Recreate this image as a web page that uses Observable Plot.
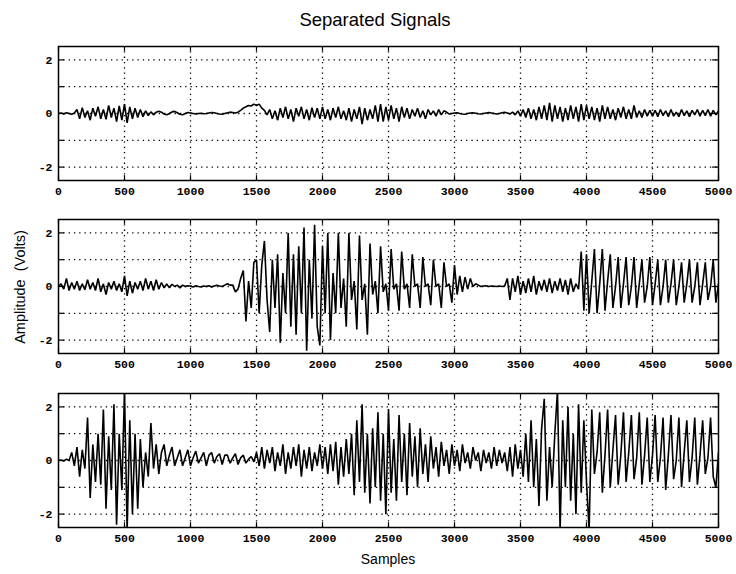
<!DOCTYPE html>
<html>
<head>
<meta charset="utf-8">
<script src="https://cdn.jsdelivr.net/npm/d3@7"></script>
<script src="https://cdn.jsdelivr.net/npm/@observablehq/plot@0.6"></script>
<style>
  html, body { margin: 0; padding: 0; background: #fff; }
  #wrap { position: relative; width: 736px; height: 574px; overflow: hidden; background: #fff; }
  .panel { position: absolute; left: 0; }
  #title { position: absolute; top: 9px; left: 0; width: 750px; text-align: center;
    font-family: "Liberation Sans", Arial, sans-serif; font-size: 18.5px; color: #000; }
  #ylab { position: absolute; left: 20px; top: 287px; transform: translate(-50%, -50%) rotate(-90deg);
    font-family: "Liberation Sans Narrow", "Liberation Sans", Arial, sans-serif; font-size: 14.5px; white-space: pre; color: #000; }
  #xlab { position: absolute; top: 551px; left: 0; width: 776px; text-align: center;
    font-family: "Liberation Sans Narrow", "Liberation Sans", Arial, sans-serif; font-size: 14px; color: #000; }
</style>
</head>
<body>
<div id="wrap">
  <div id="title">Separated Signals</div>
  <div id="ylab">Amplitude  (Volts)</div>
  <div id="xlab">Samples</div>
</div>
<script>
// sample spacing of the values below (in samples)
const STEP = 20;

// Signal 1 (top), one value every 20 samples, 0..5000
const s1 = [
  0,0.02,-0.02,0.03,0,-0.03,0.02,0.15,-0.2,0.22,-0.15,0.1,-0.25,0.2,-0.1,0.25,-0.2,0.15,-0.22,0.3,-0.15,0.2,-0.3,0.28,-0.25,
  0.35,-0.35,0.25,-0.2,0.2,-0.15,0.15,-0.12,0.1,-0.08,0.06,-0.05,0.05,0.08,0.05,-0.02,-0.05,0,0.06,0.08,0.03,-0.03,-0.05,0,0.04,
  0.02,0,-0.02,0,0.01,-0.01,0,0.02,0.04,0.03,0,-0.02,-0.03,0,0.03,0.05,0.04,0.02,0.05,0.12,0.2,0.25,0.3,0.28,0.35,
  0.3,0.35,0.2,0.12,-0.05,0.15,-0.2,0.1,-0.25,0.2,-0.15,0.25,-0.2,0.15,-0.3,0.2,-0.1,0.25,-0.2,0.15,-0.25,0.22,-0.15,0.2,-0.2,
  0.25,-0.2,0.15,-0.25,0.2,-0.15,0.25,-0.2,0.1,-0.25,0.2,-0.3,0.15,-0.2,0.25,-0.4,0.2,-0.25,0.15,-0.2,0.3,-0.3,0.35,-0.3,0.25,
  -0.25,0.3,-0.2,0.2,-0.3,0.25,-0.15,0.2,-0.2,0.15,-0.1,0.2,-0.15,0.1,-0.2,0.15,-0.05,0.1,-0.1,0.15,-0.05,0.1,0.05,-0.02,0,
  0.02,0.03,0,-0.02,-0.03,0,0.02,0.03,0.01,-0.01,-0.02,0,0.02,0.04,0.02,0,-0.02,0,0.03,0.05,0.02,-0.02,0.05,-0.05,0.1,
  -0.1,0.15,-0.15,0.2,-0.2,0.15,-0.25,0.25,-0.2,0.3,-0.25,0.4,-0.3,0.3,-0.2,0.25,-0.3,0.2,-0.25,0.3,-0.2,0.25,-0.3,0.35,-0.25,
  0.3,-0.2,0.25,-0.25,0.2,-0.3,0.3,-0.2,0.25,-0.2,0.15,-0.25,0.2,-0.15,0.25,-0.2,0.15,-0.2,0.3,-0.15,0.1,-0.15,0.15,-0.1,0.12,
  -0.1,0.12,-0.12,0.15,-0.08,0.1,-0.12,0.15,-0.1,0.05,-0.12,0.15,-0.08,0.1,-0.12,0.12,-0.05,0.15,-0.1,0.12,-0.08,0.15,-0.1,0.12,-0.05,0.1
];

// Signal 2 (middle)
const s2 = [
  0,0.1,-0.1,0.3,-0.15,0.15,-0.1,0.2,-0.15,0.1,-0.12,0.25,-0.1,0.15,-0.15,0.3,-0.2,0.1,-0.3,0.15,-0.1,0.2,-0.15,0.1,-0.2,
  0.4,-0.35,0.2,-0.25,0.15,-0.1,0.2,-0.15,0.3,-0.1,0.2,-0.15,0.25,-0.1,0.15,-0.05,0.1,-0.05,0.08,0,0.05,-0.05,0.05,0,0.03,
  0.02,-0.02,0.03,0,-0.02,0.02,0,0.03,-0.02,0.02,0.05,0.02,0,0.05,0.1,0.05,0.05,-0.2,-0.1,0.3,0.6,-1.3,0.2,-0.8,0.9,
  1.0,-1.0,0.8,1.7,-0.5,-1.7,1.0,-0.8,1.2,-2.1,0.5,-1.0,2.0,-1.5,1.2,-1.8,1.5,-1.0,2.2,-2.4,1.0,-1.2,2.3,-1.5,-2.2,
  1.5,-1.0,2.0,-2.0,0.5,-1.0,2.0,-0.8,0.3,-1.5,2.0,-0.5,0.2,-1.6,1.9,-0.5,0.1,-1.8,1.6,-0.3,0.2,-1.0,1.5,-0.2,0.1,
  -0.9,1.4,-0.1,0.1,-0.9,1.3,-0.1,0.1,-0.8,1.2,0,0.1,-0.8,1.1,0,0.1,-0.7,1.0,0,0.1,-0.8,0.9,0,0.1,-0.6,
  0.8,-0.3,0.4,-0.2,0.35,-0.1,0.3,0,0.1,0.05,0,0.02,0.03,0,0.02,0.01,0,0.02,0,0.02,0.3,-0.5,0.3,-0.2,0.4,
  -0.3,0.2,-0.25,0.3,-0.2,0.4,-0.3,0.2,-0.15,0.25,-0.2,0.3,-0.25,0.2,-0.15,0.3,-0.2,0.25,-0.3,0.3,-0.2,0.1,-0.1,1.3,-0.9,
  1.2,-1.0,0.2,1.4,-1.0,0.1,1.4,-0.9,0.2,1.2,-0.8,0,1.1,-0.8,0.1,1.1,-0.7,0,1.1,-0.8,0.1,1.0,-0.6,0,1.1,
  -0.7,0.1,1.0,-0.7,0,1.0,-0.6,0.1,1.0,-0.7,0,0.9,-0.6,0.1,1.0,-0.6,0,0.9,-0.7,0.1,0.9,-0.5,0,1.0,-0.6,0.1
];

// Signal 3 (bottom)
const s3 = [
  0,0.02,-0.02,0.05,0,0.3,-0.2,0.5,-0.6,0.4,-0.3,1.6,-1.4,0.6,-0.8,1.0,-0.9,1.9,-1.8,0.9,-1.1,2.1,-2.4,1.0,-1.1,
  2.6,-2.6,1.5,-2.0,1.0,-1.8,0.8,-1.0,0.3,-0.6,1.4,-0.3,0.6,-0.5,0.3,0.6,-0.2,0.2,0.5,-0.2,0.1,0.4,-0.2,0.1,0.4,
  -0.2,0.1,0.35,-0.1,0.1,0.3,-0.2,0.2,0.3,-0.1,0.15,0.25,-0.15,0.2,0.2,-0.1,0.1,0.25,-0.15,0.1,0.2,-0.1,0.05,0.15,-0.05,
  0.3,-0.2,0.5,-0.3,0.4,-0.1,0.5,-0.4,0.3,-0.2,0.6,-0.5,0.3,-0.3,0.5,-0.2,0.6,-0.6,0.4,-0.3,0.5,-0.4,0.3,-0.2,0.6,
  -0.3,0.5,-0.5,0.6,-0.4,0.7,-0.9,0.5,-0.6,0.8,-0.5,1.0,-1.3,1.5,-0.8,2.1,-1.2,1.0,-1.6,1.2,-1.0,1.8,-1.5,1.0,-2.0,
  1.9,-1.2,0.8,-1.5,1.7,-0.8,1.0,-1.3,1.4,-0.6,0.9,-1.0,1.2,-0.5,0.6,-0.8,0.9,-0.3,0.5,-0.6,0.7,-0.2,0.4,-0.5,0.6,
  -0.2,0.4,-0.4,0.6,-0.1,0.3,-0.3,0.5,0,0.3,-0.4,0.4,-0.1,0.3,-0.3,0.5,-0.2,0.4,-0.1,0.3,-0.4,0.5,-0.6,0.6,-0.3,
  0.4,-0.6,1.0,-0.8,1.5,-1.0,0.8,-1.7,1.2,2.3,-1.5,0.5,-1.0,1.0,2.6,-2.6,1.5,-1.0,2.0,-1.5,1.0,-2.0,2.1,-1.2,1.5,
  -0.8,-2.6,1.9,-0.5,0.3,1.8,-1.2,0.2,1.9,-1.0,0.4,1.7,-0.9,0.2,1.8,-0.8,0.3,1.7,-0.7,0.1,1.8,-0.9,0.2,1.6,-0.8,
  0.2,1.7,-0.8,0.1,1.6,-1.1,0.2,1.7,-0.7,0,1.6,-1.0,0.3,1.5,-0.8,0.1,1.6,-0.9,0.2,1.5,-0.5,0.1,1.6,-0.6,-1.0,0.3
];

const xTicks = [0, 500, 1000, 1500, 2000, 2500, 3000, 3500, 4000, 4500, 5000];
const xGrid = [500, 1000, 1500, 2000, 2500, 3000, 3500, 4000, 4500];
const yTicks = [-2, -1, 0, 1, 2];
const yLabelTicks = [-2, 0, 2];
const xDomain = [0, 5000];
const yDomain = [-2.5, 2.5];

function panel(values, top) {
  const data = values.map((v, i) => ({x: i * STEP, y: v}));
  const plot = Plot.plot({
    width: 736,
    height: 134 + 10 + 24,
    marginTop: 10,
    marginBottom: 24,
    marginLeft: 58,
    marginRight: 18,
    style: {fontFamily: "'Liberation Mono', 'DejaVu Sans Mono', monospace", fontWeight: "bold", fontSize: "11.5px", background: "transparent", color: "#000"},
    x: {domain: xDomain},
    y: {domain: yDomain},
    marks: [
      Plot.ruleX(xGrid, {stroke: "#000", strokeWidth: 1.3, strokeDasharray: "1.3,4"}),
      Plot.ruleY(yTicks, {stroke: "#000", strokeWidth: 1.3, strokeDasharray: "1.3,4"}),
      Plot.line(data, {x: "x", y: "y", stroke: "#000", strokeWidth: 1.6, strokeLinejoin: "miter", clip: true}),
      Plot.ruleX(xTicks, {y1: -2.5, y2: -2.32, stroke: "#000", strokeWidth: 1.2}),
      Plot.ruleX(xTicks, {y1: 2.5, y2: 2.32, stroke: "#000", strokeWidth: 1.2}),
      Plot.ruleY(yTicks, {x1: 0, x2: 45, stroke: "#000", strokeWidth: 1.2}),
      Plot.ruleY(yTicks, {x1: 5000, x2: 4955, stroke: "#000", strokeWidth: 1.2}),
      Plot.frame({stroke: "#000", strokeWidth: 1.5}),
      Plot.axisX(xTicks, {tickSize: 0, tickPadding: 6, tickFormat: d => String(d), label: null}),
      Plot.axisY(yLabelTicks, {tickSize: 0, tickPadding: 6, tickFormat: d => String(d), label: null})
    ]
  });
  plot.classList.add("panel");
  plot.style.top = top + "px";
  plot.style.position = "absolute";
  plot.style.overflow = "visible";
  document.getElementById("wrap").appendChild(plot);
}

panel(s1, 36);
panel(s2, 209);
panel(s3, 383);
</script>
</body>
</html>
